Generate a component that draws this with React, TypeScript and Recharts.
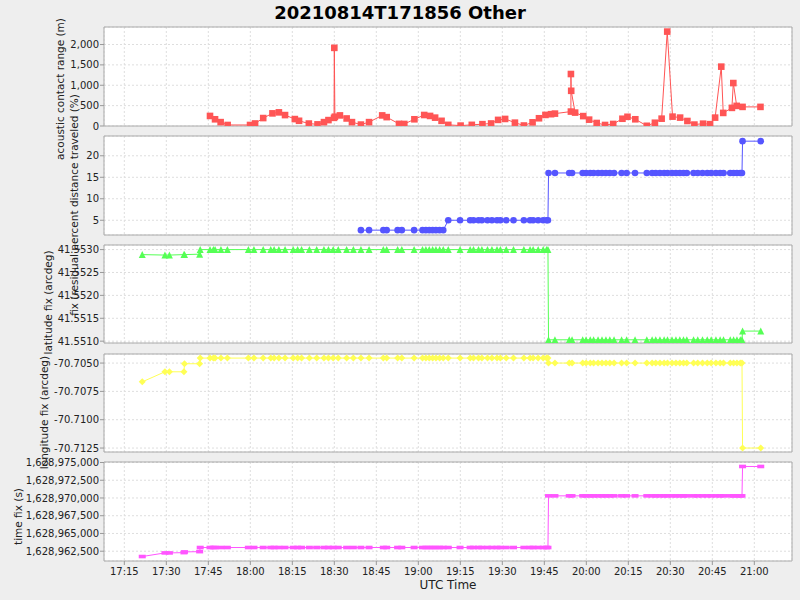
import React from 'react';
import { LineChart, Line, XAxis, YAxis, CartesianGrid, ReferenceArea } from 'recharts';

// x values are minutes after 17:00 UTC
const X_DOMAIN: [number, number] = [7.74, 253.46];
const X_TICKS = [15, 30, 45, 60, 75, 90, 105, 120, 135, 150, 165, 180, 195, 210, 225, 240];

// acoustic contact range (m)
const RANGE_TIMES = [
  45.6, 47.4, 49.4, 51.9, 59.9, 61.7, 64.6, 67.9, 70.2, 72.4,
  75.9, 77.4, 80.9, 84.0, 86.3, 87.9, 89.9, 90.0, 90.2, 92.0,
  94.4, 96.3, 99.5, 102.4, 107.1, 108.7, 113.1, 115.0, 118.6, 122.1,
  124.2, 126.0, 128.3, 130.7, 135.1, 139.1, 142.9, 146.0, 148.5, 151.0,
  154.5, 157.7, 160.8, 163.1, 165.4, 167.4, 168.8, 174.5, 174.5, 174.6,
  176.0, 178.9, 181.0, 183.7, 186.7, 189.6, 192.9, 194.7, 197.5, 201.6,
  204.5, 206.9, 208.9, 210.8, 213.5, 216.1, 218.6, 221.7, 224.2, 226.0,
  228.2, 228.9, 232.0, 232.5, 233.7, 235.8, 242.2,
];
const RANGE_VALUES = [
  247, 165, 95, 25, 25, 62, 195, 310, 335, 268,
  170, 128, 60, 40, 95, 145, 200, 1918, 228, 260,
  185, 95, 35, 95, 260, 218, 52, 50, 165, 270,
  247, 205, 127, 28, 10, 28, 45, 62, 150, 173,
  82, 12, 90, 190, 272, 290, 304, 354, 1276, 864,
  329, 243, 156, 74, 25, 50, 178, 226, 165, 5,
  80, 180, 2317, 230, 206, 123, 35, 57, 45, 206,
  1457, 321, 445, 1054, 494, 469, 469,
];

// fix samples shared by the lower four panels
const FIX_TIMES = [
  21.4, 29.5, 31.1, 36.3, 36.5, 41.9, 42.1,
  45.6, 46.8, 47.4, 49.5, 51.8, 59.3, 61.3, 64.6, 67.3, 68.5,
  70.2, 72.4, 75.3, 76.9, 78.3, 81.1, 83.7, 86.3, 87.9, 89.6,
  91.4, 94.4, 96.8,
  99.5, 102.4, 107.5, 108.7, 112.6, 114.1, 118.5, 121.5, 122.7, 123.9,
  125.1, 126.3, 127.6, 128.9,
  130.7, 134.9, 138.5, 139.7, 141.5, 142.7, 144.7, 146.3, 148.1, 149.3,
  151.4, 154.0, 157.7, 159.9, 161.0, 162.8, 164.6, 165.8, 166.3,
  166.5, 168.8, 173.9, 174.9, 178.7, 179.9, 181.4, 182.6, 184.2, 185.6,
  187.0, 188.4, 189.9, 192.6, 194.4, 197.4, 201.6, 203.5, 204.8, 206.3,
  207.8, 209.0, 210.6, 212.0, 213.4, 214.7, 215.9, 218.3, 219.8, 221.5,
  223.2, 224.6, 226.3, 227.8, 229.0, 231.4, 232.6, 233.8, 235.0, 235.6,
  235.8, 242.3,
];

const PCT_TRAVELED = [
  null, null, null, null, null, null, null,
  null, null, null, null, null, null, null, null, null, null,
  null, null, null, null, null, null, null, null, null, null,
  null, null, null,
  2.7, 2.7, 2.7, 2.7, 2.7, 2.7, 2.7, 2.7, 2.7, 2.7,
  2.7, 2.7, 2.7, 2.7,
  5, 5, 5, 5, 5, 5, 5, 5, 5, 5,
  5, 5, 5, 5, 5, 5, 5, 5, 5,
  16, 16, 16, 16, 16, 16, 16, 16, 16, 16,
  16, 16, 16, 16, 16, 16, 16, 16, 16, 16,
  16, 16, 16, 16, 16, 16, 16, 16, 16, 16,
  16, 16, 16, 16, 16, 16, 16, 16, 16, 16,
  23.4, 23.4,
];

const LAT_FIX = [
  41.55289, 41.55288, 41.55288, 41.55289, 41.55289, 41.5529, 41.553,
  41.553, 41.553, 41.553, 41.553, 41.553, 41.553, 41.553, 41.553, 41.553, 41.553,
  41.553, 41.553, 41.553, 41.553, 41.553, 41.553, 41.553, 41.553, 41.553, 41.553,
  41.553, 41.553, 41.553,
  41.553, 41.553, 41.553, 41.553, 41.553, 41.553, 41.553, 41.553, 41.553, 41.553,
  41.553, 41.553, 41.553, 41.553,
  41.553, 41.553, 41.553, 41.553, 41.553, 41.553, 41.553, 41.553, 41.553, 41.553,
  41.553, 41.553, 41.553, 41.553, 41.553, 41.553, 41.553, 41.553, 41.553,
  41.55103, 41.55103, 41.55103, 41.55103, 41.55103, 41.55103, 41.55103, 41.55103, 41.55103, 41.55103,
  41.55103, 41.55103, 41.55103, 41.55103, 41.55103, 41.55103, 41.55103, 41.55103, 41.55103, 41.55103,
  41.55103, 41.55103, 41.55103, 41.55103, 41.55103, 41.55103, 41.55103, 41.55103, 41.55103, 41.55103,
  41.55103, 41.55103, 41.55103, 41.55103, 41.55103, 41.55103, 41.55103, 41.55103, 41.55103, 41.55103,
  41.55122, 41.55122,
];

const LON_FIX = [
  -70.70666, -70.70577, -70.70577, -70.70577, -70.70506, -70.70506, -70.70456,
  -70.70456, -70.70456, -70.70456, -70.70456, -70.70456, -70.70456, -70.70456, -70.70456, -70.70456, -70.70456,
  -70.70456, -70.70456, -70.70456, -70.70456, -70.70456, -70.70456, -70.70456, -70.70456, -70.70456, -70.70456,
  -70.70456, -70.70456, -70.70456,
  -70.70456, -70.70456, -70.70456, -70.70456, -70.70456, -70.70456, -70.70456, -70.70456, -70.70456, -70.70456,
  -70.70456, -70.70456, -70.70456, -70.70456,
  -70.70456, -70.70456, -70.70456, -70.70456, -70.70456, -70.70456, -70.70456, -70.70456, -70.70456, -70.70456,
  -70.70456, -70.70456, -70.70456, -70.70456, -70.70456, -70.70456, -70.70456, -70.70456, -70.70456,
  -70.705, -70.705, -70.705, -70.705, -70.705, -70.705, -70.705, -70.705, -70.705, -70.705,
  -70.705, -70.705, -70.705, -70.705, -70.705, -70.705, -70.705, -70.705, -70.705, -70.705,
  -70.705, -70.705, -70.705, -70.705, -70.705, -70.705, -70.705, -70.705, -70.705, -70.705,
  -70.705, -70.705, -70.705, -70.705, -70.705, -70.705, -70.705, -70.705, -70.705, -70.705,
  -70.7125, -70.7125,
];

const TIME_FIX = [
  1628961750, 1628962260, 1628962260, 1628962300, 1628962400, 1628962440, 1628963020,
  1628963020, 1628963020, 1628963020, 1628963020, 1628963020, 1628963020, 1628963020, 1628963020, 1628963020, 1628963020,
  1628963020, 1628963020, 1628963020, 1628963020, 1628963020, 1628963020, 1628963020, 1628963020, 1628963020, 1628963020,
  1628963020, 1628963020, 1628963020,
  1628963020, 1628963020, 1628963020, 1628963020, 1628963020, 1628963020, 1628963020, 1628963020, 1628963020, 1628963020,
  1628963020, 1628963020, 1628963020, 1628963020,
  1628963020, 1628963020, 1628963020, 1628963020, 1628963020, 1628963020, 1628963020, 1628963020, 1628963020, 1628963020,
  1628963020, 1628963020, 1628963020, 1628963020, 1628963020, 1628963020, 1628963020, 1628963020, 1628963020,
  1628970300, 1628970300, 1628970300, 1628970300, 1628970300, 1628970300, 1628970300, 1628970300, 1628970300, 1628970300,
  1628970300, 1628970300, 1628970300, 1628970300, 1628970300, 1628970300, 1628970300, 1628970300, 1628970300, 1628970300,
  1628970300, 1628970300, 1628970300, 1628970300, 1628970300, 1628970300, 1628970300, 1628970300, 1628970300, 1628970300,
  1628970300, 1628970300, 1628970300, 1628970300, 1628970300, 1628970300, 1628970300, 1628970300, 1628970300, 1628970300,
  1628974440, 1628974440,
];

const RANGE_TICKS = [0, 500, 1000, 1500, 2000];
const PCT_TICKS = [5, 10, 15, 20];
const LAT_TICKS = [41.551, 41.5515, 41.552, 41.5525, 41.553];
const LON_TICKS = [-70.7125, -70.71, -70.7075, -70.705];
const TIME_TICKS = [1628962500, 1628965000, 1628967500, 1628970000, 1628972500, 1628975000];

const rangeData = RANGE_TIMES.map((t, i) => ({ t, v: RANGE_VALUES[i] }));
const fixData = FIX_TIMES.map((t, i) => ({
  t,
  pct: PCT_TRAVELED[i],
  lat: LAT_FIX[i],
  lon: LON_FIX[i],
  tfix: TIME_FIX[i],
}));

const fmtClock = (m: number) => {
  const h = 17 + Math.floor(m / 60);
  const mm = Math.round(m % 60);
  return `${h}:${String(mm).padStart(2, '0')}`;
};
const fmtComma = (v: number) => v.toLocaleString('en-US');
const fmtInt = (v: number) => String(v);
const fmt4 = (v: number) => v.toFixed(4);

const makeDot = (shape: string, color: string) => (p: any) => {
  const { cx, cy, index, value } = p;
  const key = `dot-${index}`;
  if (cx == null || cy == null || value == null || Number.isNaN(cy)) return <g key={key} />;
  switch (shape) {
    case 'circle':
      return <circle key={key} cx={cx} cy={cy} r={3.3} fill={color} />;
    case 'triangle':
      return <polygon key={key} points={`${cx},${cy - 3.5} ${cx + 3.5},${cy + 3.5} ${cx - 3.5},${cy + 3.5}`} fill={color} />;
    case 'diamond':
      return <polygon key={key} points={`${cx},${cy - 3.5} ${cx + 3.5},${cy} ${cx},${cy + 3.5} ${cx - 3.5},${cy}`} fill={color} />;
    case 'hrect':
      return <rect key={key} x={cx - 3.5} y={cy - 1.8} width={7} height={3.6} fill={color} />;
    default:
      return <rect key={key} x={cx - 3.3} y={cy - 3.3} width={6.6} height={6.6} fill={color} />;
  }
};

const PAD = 10;
const XAXIS_H = 38;

interface PanelProps {
  top: number;
  plotHeight: number;
  data: any[];
  dataKey: string;
  domain: [number, number];
  ticks: number[];
  tickFormatter: (v: number) => string;
  color: string;
  shape: string;
  showX?: boolean;
}

const Panel: React.FC<PanelProps> = ({ top, plotHeight, data, dataKey, domain, ticks, tickFormatter, color, shape, showX }) => {
  const height = PAD + plotHeight + (showX ? XAXIS_H : PAD);
  return (
    <div style={{ position: 'absolute', left: 0, top: top - PAD }}>
      <LineChart width={800} height={height} data={data} margin={{ top: PAD, right: 8, bottom: showX ? 0 : PAD, left: 0 }}>
        <CartesianGrid stroke="#dedede" strokeDasharray="2 2" fill="#ffffff" />
        <XAxis
          type="number"
          dataKey="t"
          domain={X_DOMAIN}
          ticks={X_TICKS}
          allowDataOverflow
          hide={!showX}
          height={showX ? XAXIS_H : 0}
          tickFormatter={fmtClock}
          tick={{ fontSize: 10, fill: '#222' }}
          tickSize={4}
          tickMargin={3}
          axisLine={false}
          tickLine={{ stroke: '#999' }}
          interval={0}
        />
        <YAxis
          type="number"
          domain={domain}
          ticks={ticks}
          allowDataOverflow
          width={104}
          tickFormatter={tickFormatter}
          tick={{ fontSize: 10, fill: '#222' }}
          tickSize={4}
          tickMargin={1}
          axisLine={false}
          tickLine={{ stroke: '#999' }}
          interval={0}
        />
        <ReferenceArea x1={X_DOMAIN[0]} x2={X_DOMAIN[1]} y1={domain[0]} y2={domain[1]} fill="none" stroke="#aaaaaa" ifOverflow="visible" />
        <Line
          type="linear"
          dataKey={dataKey}
          stroke={color}
          strokeWidth={1}
          dot={makeDot(shape, color)}
          activeDot={false}
          connectNulls={false}
          isAnimationActive={false}
        />
      </LineChart>
    </div>
  );
};

const Y_LABELS = [
  { text: 'acoustic contact range (m)', x: 63.5, y: 89 },
  { text: 'fix (residual percent distance traveled (%)', x: 77.5, y: 205 },
  { text: 'latitude fix (arcdeg)', x: 52, y: 302.5 },
  { text: 'longitude fix (arcdeg)', x: 47.5, y: 412.5 },
  { text: 'time fix (s)', x: 22, y: 516.5 },
];

export default function App() {
  return (
    <div
      style={{
        position: 'absolute',
        left: 0,
        top: 0,
        width: 800,
        height: 600,
        background: '#eeeeee',
        fontFamily: '"DejaVu Sans", sans-serif',
        overflow: 'hidden',
      }}
    >
      <Panel top={26.5} plotHeight={99} data={rangeData} dataKey="v" domain={[0, 2430]} ticks={RANGE_TICKS} tickFormatter={fmtComma} color="#ff5555" shape="square" />
      <Panel top={135.5} plotHeight={99} data={fixData} dataKey="pct" domain={[1.57, 24.6]} ticks={PCT_TICKS} tickFormatter={fmtInt} color="#5555ff" shape="circle" />
      <Panel top={244.5} plotHeight={98} data={fixData} dataKey="lat" domain={[41.55096, 41.5531]} ticks={LAT_TICKS} tickFormatter={fmt4} color="#55ff55" shape="triangle" />
      <Panel top={353.5} plotHeight={98} data={fixData} dataKey="lon" domain={[-70.71285, -70.7042]} ticks={LON_TICKS} tickFormatter={fmt4} color="#ffff55" shape="diamond" />
      <Panel top={461.5} plotHeight={99} data={fixData} dataKey="tfix" domain={[1628961120, 1628975070]} ticks={TIME_TICKS} tickFormatter={fmtComma} color="#ff55ff" shape="hrect" showX />
      <svg width={800} height={600} style={{ position: 'absolute', left: 0, top: 0, pointerEvents: 'none' }}>
        <text x={400} y={19} textAnchor="middle" fontSize={18} fontWeight="bold" fill="#000">
          20210814T171856 Other
        </text>
        {Y_LABELS.map((l) => (
          <text key={l.text} x={l.x} y={l.y} transform={`rotate(-90 ${l.x} ${l.y})`} textAnchor="middle" fontSize={10.5} fill="#222">
            {l.text}
          </text>
        ))}
        <text x={448} y={589} textAnchor="middle" fontSize={12} fill="#222">
          UTC Time
        </text>
      </svg>
    </div>
  );
}
